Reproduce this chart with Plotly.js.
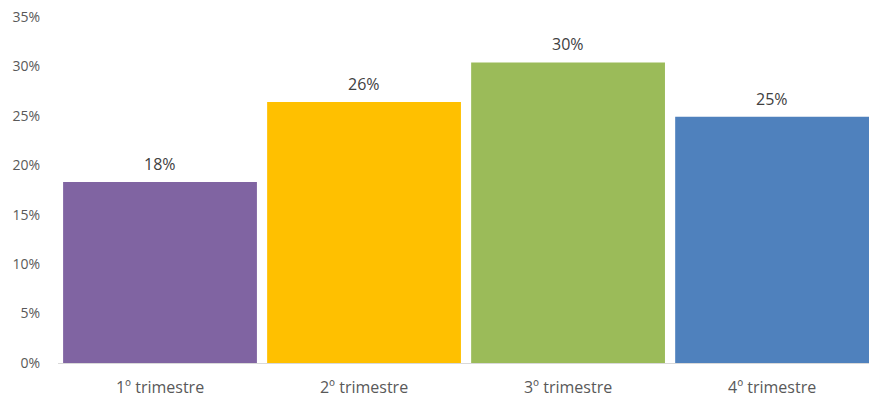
<!DOCTYPE html>
<html>
<head>
<meta charset="utf-8">
<script src="https://cdn.plot.ly/plotly-3.0.1.min.js"></script>
<style>html,body{margin:0;padding:0;background:#fff;}#chart{width:869px;height:397px;}</style>
</head>
<body>
<div id="chart"></div>
<script>
const categories = ["1º trimestre", "2º trimestre", "3º trimestre", "4º trimestre"];
const values = [0.183, 0.264, 0.304, 0.249];
const colors = ["#8064A2", "#FFC000", "#9BBB59", "#4F81BD"];
const yTickVals = [0, 0.05, 0.10, 0.15, 0.20, 0.25, 0.30, 0.35];
const yTickText = ["0%", "5%", "10%", "15%", "20%", "25%", "30%", "35%"];

const font = "Open Sans, Noto Sans, sans-serif";
const annotations = categories.map((c, i) => ({
  x: c, y: values[i], xref: "x", yref: "y",
  text: Math.round(values[i] * 100) + "%",
  showarrow: false, yanchor: "bottom", yshift: 5,
  font: {family: font, size: 16, color: "#404040"}
}));

Plotly.newPlot("chart", [{
  type: "bar",
  x: categories,
  y: values,
  marker: {color: colors},
  hoverinfo: "none"
}], {
  width: 869, height: 397,
  margin: {l: 58, r: 0, t: 17, b: 34},
  paper_bgcolor: "#fff", plot_bgcolor: "#fff",
  bargap: 0.05,
  showlegend: false,
  annotations: annotations,
  xaxis: {
    range: [-0.5, 3.475],
    showline: true, linecolor: "#D9D9D9", linewidth: 1,
    showgrid: false, zeroline: false,
    ticks: "outside", ticklen: 10, tickcolor: "rgba(0,0,0,0)",
    tickfont: {family: font, size: 16, color: "#595959"},
    fixedrange: true
  },
  yaxis: {
    range: [0, 0.35],
    tickvals: yTickVals, ticktext: yTickText,
    showgrid: false, zeroline: false, showline: false,
    ticks: "outside", ticklen: 14, tickcolor: "rgba(0,0,0,0)",
    tickfont: {family: font, size: 14, color: "#595959"},
    fixedrange: true
  }
}, {displayModeBar: false, staticPlot: true});
</script>
</body>
</html>
